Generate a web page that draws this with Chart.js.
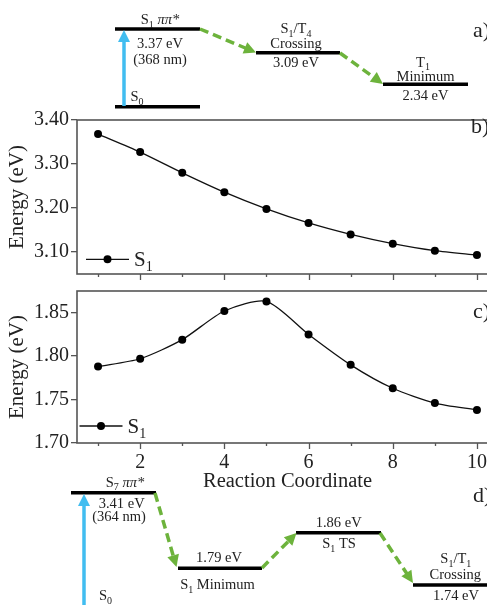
<!DOCTYPE html>
<html>
<head>
<meta charset="utf-8">
<script src="https://cdn.jsdelivr.net/npm/chart.js@4.4.1/dist/chart.umd.min.js"></script>
<style>
  html, body { margin: 0; padding: 0; background: #fff; overflow: hidden; }
  #figure { position: relative; width: 487px; height: 605px; overflow: hidden; }
  canvas { position: absolute; left: 0; }
</style>
</head>
<body>
<div id="figure">
  <canvas id="diagramA" width="510" height="112" style="top:0"></canvas>
  <canvas id="chartB" width="510" height="195" style="top:100px"></canvas>
  <canvas id="chartC" width="510" height="228" style="top:270px"></canvas>
  <canvas id="diagramD" width="510" height="135" style="top:470px"></canvas>
</div>
<script>
const FONT = '"Liberation Serif", "Times New Roman", serif';
const INK = "#222";
const AXIS = "#555";
const GREEN = "#6db33c";
const BLUE = "#41bdf0";

// panels b) and c): S1 energy along the reaction coordinate
const coordinate = [1, 2, 3, 4, 5, 6, 7, 8, 9, 10];
const s1EnergyB = [3.368, 3.327, 3.280, 3.236, 3.198, 3.166, 3.140, 3.119, 3.103, 3.093];
const s1EnergyC = [1.788, 1.797, 1.819, 1.852, 1.863, 1.825, 1.790, 1.763, 1.746, 1.738];
const yTicksB = [3.10, 3.20, 3.30, 3.40];
const yTicksC = [1.70, 1.75, 1.80, 1.85];
const xTickLabels = ["", "2", "", "4", "", "6", "", "8", "", "10"];
const seriesLabel = "S_{1}";

// panels a) and d): energy level diagrams
const energiesA = [3.37, 3.09, 2.34];
const wavelengthA = 368;
const energiesD = [3.41, 1.79, 1.86, 1.74];
const wavelengthD = 364;

const eV = (v) => v.toFixed(2) + " eV";

// schematic geometry of the diagrams (figure pixels)
const levelsA = [
  [115, 200, 106.7],
  [115, 200, 29],
  [256, 340, 52.7],
  [383, 468, 84.3],
];
const levelsD = [
  [71, 156, 492.7],
  [178, 262, 568.3],
  [296, 381, 532.7],
  [413, 500, 585],
];

// rich text: _{..} subscript, ~..~ italic
function drawRich(ctx, markup, x, y, size, align) {
  const parts = [];
  const re = /_\{([^}]*)\}|~([^~]*)~|([^_~]+)/g;
  let m;
  while ((m = re.exec(markup))) {
    if (m[1] !== undefined) parts.push({ text: m[1], sub: true });
    else if (m[2] !== undefined) parts.push({ text: m[2], italic: true });
    else parts.push({ text: m[3] });
  }
  const fontOf = (p) => `${p.italic ? "italic " : ""}${p.sub ? Math.round(size * 0.68) : size}px ${FONT}`;
  let total = 0;
  parts.forEach((p) => {
    ctx.font = fontOf(p);
    p.w = ctx.measureText(p.text).width;
    total += p.w;
  });
  let cx = align === "left" ? x : align === "right" ? x - total : x - total / 2;
  ctx.fillStyle = INK;
  ctx.textAlign = "left";
  ctx.textBaseline = "alphabetic";
  parts.forEach((p) => {
    ctx.font = fontOf(p);
    ctx.fillText(p.text, cx, p.sub ? y + size * 0.25 : y);
    cx += p.w;
  });
}

function drawArrow(ctx, from, to, color, dashed) {
  const dx = to[0] - from[0];
  const dy = to[1] - from[1];
  const len = Math.hypot(dx, dy);
  const ux = dx / len;
  const uy = dy / len;
  const head = 12;
  const half = 6;
  const bx = to[0] - ux * head;
  const by = to[1] - uy * head;
  ctx.strokeStyle = color;
  ctx.fillStyle = color;
  ctx.lineWidth = 3.5;
  ctx.setLineDash(dashed ? [9, 5] : []);
  ctx.beginPath();
  ctx.moveTo(from[0], from[1]);
  ctx.lineTo(bx + ux * 1, by + uy * 1);
  ctx.stroke();
  ctx.setLineDash([]);
  ctx.beginPath();
  ctx.moveTo(to[0], to[1]);
  ctx.lineTo(bx - uy * half, by + ux * half);
  ctx.lineTo(bx + uy * half, by - ux * half);
  ctx.closePath();
  ctx.fill();
}

const diagramPlugin = {
  id: "diagram",
  afterDatasetsDraw(chart, args, opts) {
    const { ctx, scales: { x, y } } = chart;
    const px = (p) => [x.getPixelForValue(p[0]), y.getPixelForValue(p[1])];
    ctx.save();
    opts.arrows.forEach((a) => drawArrow(ctx, px(a[0]), px(a[1]), a[2], a[3]));
    opts.texts.forEach((t) => {
      const [tx, ty] = px([t[1], t[2]]);
      drawRich(ctx, t[0], tx, ty, t[3] || 14.5, t[4] || "center");
    });
    ctx.restore();
  },
};

function makeDiagram(canvas, levels, yMin, yMax, arrows, texts) {
  return new Chart(canvas, {
    type: "line",
    data: {
      datasets: levels.map((l) => ({
        data: [{ x: l[0], y: l[2] }, { x: l[1], y: l[2] }],
        borderColor: "#000",
        borderWidth: 3.5,
        borderCapStyle: "butt",
        pointRadius: 0,
        clip: false,
      })),
    },
    options: {
      responsive: false,
      animation: false,
      events: [],
      layout: { padding: 0 },
      plugins: {
        legend: { display: false },
        tooltip: { enabled: false },
        diagram: { arrows, texts },
      },
      scales: {
        x: { type: "linear", display: false, min: 0, max: 510 },
        y: { type: "linear", display: false, min: yMin, max: yMax, reverse: true },
      },
    },
    plugins: [diagramPlugin],
  });
}

const framePlugin = {
  id: "frame",
  afterDraw(chart, args, opts) {
    const { ctx, chartArea: a, scales: { x } } = chart;
    ctx.save();
    ctx.strokeStyle = AXIS;
    ctx.lineWidth = 1.6;
    ctx.strokeRect(a.left, a.top, a.right - a.left, a.bottom - a.top);
    ctx.lineWidth = 1.3;
    coordinate.forEach((v) => {
      const p = Math.round(x.getPixelForValue(v)) + 0.5;
      ctx.beginPath();
      ctx.moveTo(p, a.bottom);
      ctx.lineTo(p, a.bottom + (v % 2 === 0 ? 6 : 3));
      ctx.stroke();
    });
    // legend inside the plot, lower left
    const ds = chart.data.datasets[0];
    const ly = a.bottom - opts.rise;
    const x0 = a.left + opts.start;
    ctx.strokeStyle = ds.borderColor;
    ctx.lineWidth = ds.borderWidth;
    ctx.beginPath();
    ctx.moveTo(x0, ly);
    ctx.lineTo(x0 + 43, ly);
    ctx.stroke();
    ctx.fillStyle = ds.backgroundColor;
    ctx.beginPath();
    ctx.arc(x0 + 21.5, ly, ds.pointRadius, 0, Math.PI * 2);
    ctx.fill();
    drawRich(ctx, ds.label, x0 + 48, ly + 6.5, 21, "left");
    // panel letter
    drawRich(ctx, opts.letter, opts.letterX, a.top + opts.letterY, 22, "left");
    ctx.restore();
  },
};

function makeEnergyChart(canvas, values, yMin, yMax, yTicks, opts) {
  return new Chart(canvas, {
    type: "line",
    data: {
      datasets: [{
        label: seriesLabel,
        data: coordinate.map((c, i) => ({ x: c, y: values[i] })),
        borderColor: "#111",
        backgroundColor: "#000",
        borderWidth: 1.3,
        pointRadius: 4,
        pointBorderWidth: 0,
        tension: 0.25,
        clip: false,
      }],
    },
    options: {
      responsive: false,
      animation: false,
      events: [],
      layout: { padding: { top: opts.padTop, right: 12, bottom: opts.padBottom, left: 0 } },
      plugins: {
        legend: { display: false },
        tooltip: { enabled: false },
        frame: opts.frame,
      },
      scales: {
        x: {
          type: "linear",
          min: 0.5,
          max: 10.5,
          afterBuildTicks: (s) => { s.ticks = coordinate.map((v) => ({ value: v })); },
          afterFit: (s) => { s.height = opts.xHeight; },
          border: { display: false },
          grid: { drawOnChartArea: false, color: "transparent", tickLength: 6 },
          ticks: {
            display: opts.showX,
            autoSkip: false,
            maxRotation: 0,
            padding: 2,
            color: INK,
            font: { family: FONT, size: 20 },
            callback: (v, i) => xTickLabels[i],
          },
          title: {
            display: opts.showX,
            text: "Reaction Coordinate",
            color: INK,
            font: { family: FONT, size: 20.5 },
            padding: { top: 0, bottom: 4 },
          },
        },
        y: {
          min: yMin,
          max: yMax,
          afterBuildTicks: (s) => { s.ticks = yTicks.map((v) => ({ value: v })); },
          afterFit: (s) => { s.width = 77; },
          border: { display: false },
          grid: { drawOnChartArea: false, color: AXIS, lineWidth: 1.3, tickLength: 6 },
          ticks: {
            color: INK,
            padding: 2,
            font: { family: FONT, size: 20 },
            callback: (v) => Number(v).toFixed(2),
          },
          title: {
            display: true,
            text: "Energy (eV)",
            color: INK,
            font: { family: FONT, size: 21 },
            padding: { top: 5, bottom: 0 },
          },
        },
      },
    },
    plugins: [framePlugin],
  });
}

makeDiagram(
  document.getElementById("diagramA"),
  levelsA, 0, 112,
  [
    [[124, 106], [124, 30], BLUE, false],
    [[200, 29], [256, 52.5], GREEN, true],
    [[340, 53], [383, 84], GREEN, true],
  ],
  [
    ["S_{1} ~ππ*~", 160, 24],
    [eV(energiesA[0]), 160, 48.3],
    [`(${wavelengthA} nm)`, 160, 64],
    ["S_{0}", 137, 101],
    ["S_{1}/T_{4}", 296, 33.3],
    ["Crossing", 296, 48.3],
    [eV(energiesA[1]), 296, 67],
    ["T_{1}", 423, 66.7],
    ["Minimum", 425.5, 81],
    [eV(energiesA[2]), 425.5, 99.5],
    ["a)", 473, 36.7, 22, "left"],
  ]
);

makeEnergyChart(document.getElementById("chartB"), s1EnergyB, 3.05, 3.40, yTicksB, {
  padTop: 20, padBottom: 10, xHeight: 11, showX: false,
  frame: { rise: 14.7, start: 9, letter: "b)", letterX: 471, letterY: 13 },
});

makeEnergyChart(document.getElementById("chartC"), s1EnergyC, 1.70, 1.875, yTicksC, {
  padTop: 21, padBottom: 0, xHeight: 55, showX: true,
  frame: { rise: 17, start: 2.5, letter: "c)", letterX: 473, letterY: 27.3 },
});

makeDiagram(
  document.getElementById("diagramD"),
  levelsD, 470, 605,
  [
    [[84, 612], [84, 494], BLUE, false],
    [[155, 493], [176.5, 567], GREEN, true],
    [[262, 568], [296.5, 533], GREEN, true],
    [[380, 533], [413, 583], GREEN, true],
  ],
  [
    ["S_{7} ~ππ*~", 125, 486.7],
    [eV(energiesD[0]), 121.7, 507.7],
    [`(${wavelengthD} nm)`, 119, 521],
    ["S_{0}", 105.5, 600],
    [eV(energiesD[1]), 219, 561.7],
    ["S_{1} Minimum", 217.5, 589.3],
    [eV(energiesD[2]), 338.7, 526.7],
    ["S_{1} TS", 339, 548.3],
    ["S_{1}/T_{1}", 455.8, 563.3],
    ["Crossing", 455.3, 579.3],
    [eV(energiesD[3]), 456, 600],
    ["d)", 473, 501.7, 22, "left"],
  ]
);
</script>
</body>
</html>
